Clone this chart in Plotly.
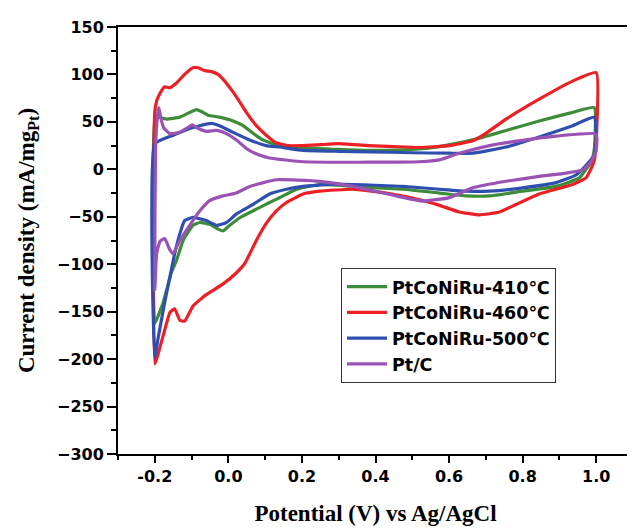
import plotly.graph_objects as go

# ---- data ----
series_names = ["PtCoNiRu-410℃", "PtCoNiRu-460℃", "PtCoNiRu-500℃", "Pt/C"]
series_colors = ["#3d8c3a", "#ec2024", "#2f4fae", "#9a52b4"]

x_410 = [-0.2, -0.2, -0.19, -0.168, -0.132, -0.105, -0.087, -0.073, -0.055, -0.024, 0.013, 0.040, 0.067,
         0.094, 0.130, 0.2, 0.3, 0.384, 0.5, 0.574, 0.664, 0.755, 0.845, 0.936, 0.995, 0.995, 0.99, 0.981,
         0.954, 0.891, 0.8, 0.71, 0.646, 0.574, 0.474, 0.338, 0.248, 0.185, 0.139, 0.112, 0.076, 0.031,
         0.004, -0.015, -0.028, -0.051, -0.078, -0.096, -0.123, -0.141, -0.155, -0.177, -0.2]
y_410 = [-162, 50, 55, 53, 55, 60, 63, 61, 57, 55, 51, 46, 38,
         31, 26, 23, 21, 20, 21, 24, 31, 41, 51, 60, 65, 22, 12, 5,
         -9, -18, -23, -28, -28, -25, -21, -18, -16, -21, -30, -35, -42, -51,
         -59, -65, -63, -58, -56, -59, -75, -96, -109, -140, -162]

x_460 = [-0.2, -0.2, -0.195, -0.186, -0.173, -0.159, -0.141, -0.119, -0.096, -0.082, -0.064, -0.046, -0.028,
         -0.010, 0.008, 0.026, 0.049, 0.076, 0.103, 0.13, 0.16, 0.2, 0.25, 0.3, 0.38, 0.45, 0.52, 0.6,
         0.664, 0.70, 0.755, 0.845, 0.936, 1.0, 1.0, 0.995, 0.985, 0.972, 0.936, 0.845, 0.782, 0.737,
         0.682, 0.628, 0.574, 0.52, 0.429, 0.338, 0.248, 0.203, 0.158, 0.130, 0.103, 0.076, 0.045, 0.022,
         -0.015, -0.06, -0.096, -0.119, -0.132, -0.146, -0.159, -0.177, -0.2]
y_460 = [-205, 60, 72, 80, 87, 86, 91, 100, 107, 107, 104, 103, 100,
         93, 84, 74, 60, 46, 36, 28, 25, 25, 26, 27, 25, 24, 23, 25,
         30, 38, 53, 74, 93, 102, 30, 10, 0, -9, -16, -26, -37, -45,
         -48, -45, -38, -32, -25, -21, -23, -26, -35, -44, -57, -75, -99, -109,
         -121, -132, -144, -160, -159, -147, -151, -175, -205]

x_500 = [-0.2, -0.2, -0.15, -0.105, -0.078, -0.046, -0.024, 0.013, 0.058, 0.103, 0.139, 0.203, 0.3,
         0.384, 0.5, 0.601, 0.664, 0.755, 0.845, 0.936, 0.995, 1.0, 0.995, 0.981, 0.945, 0.891, 0.8,
         0.71, 0.646, 0.574, 0.474, 0.293, 0.203, 0.158, 0.112, 0.067, 0.022, -0.005, -0.032, -0.06,
         -0.096, -0.119, -0.132, -0.146, -0.155, -0.173, -0.191, -0.2]
y_500 = [-198, 27, 36, 43, 46, 48.5, 46, 39, 31, 25, 23.5, 20, 19,
         18.5, 17.5, 17, 17, 23.5, 34, 46, 55, 29, 15, 8, -6, -14, -19.5,
         -23, -23, -21, -18, -15.5, -18, -21, -26, -37, -47, -56, -59, -54,
         -50.6, -54, -68, -89, -106, -140, -178, -198]

x_ptc = [-0.2, -0.198, -0.193, -0.189, -0.184, -0.176, -0.159, -0.132, -0.110, -0.098, -0.082, -0.06,
         -0.032, -0.01, 0.022, 0.049, 0.072, 0.112, 0.203, 0.384, 0.52, 0.574, 0.628, 0.71, 0.8, 0.891,
         0.999, 1.002, 0.999, 0.986, 0.963, 0.918, 0.845, 0.755, 0.664, 0.601, 0.528, 0.456, 0.338,
         0.248, 0.13, 0.058, 0.022, -0.015, -0.051, -0.078, -0.105, -0.132, -0.15, -0.159, -0.173,
         -0.186, -0.195, -0.2]
y_ptc = [-127, 20, 55, 65, 55, 44, 37.5, 39, 44, 47, 43, 40,
         41, 38.5, 31, 22, 17, 12, 8, 7.5, 8, 10, 17, 25, 30.6, 35,
         37.5, 32, 18, 8, -0.5, -4, -7.5, -12.6, -19.5, -29.8, -33.4, -28, -18,
         -12.6, -11, -18, -25, -28, -33, -44, -59, -75, -89, -85, -73,
         -76, -89, -127]

x_ticks = [-0.2, 0.0, 0.2, 0.4, 0.6, 0.8, 1.0]
y_ticks = [150, 100, 50, 0, -50, -100, -150, -200, -250, -300]

xs = [x_410, x_460, x_500, x_ptc]
ys = [y_410, y_460, y_500, y_ptc]

fig = go.Figure()
for name, color, x, y in zip(series_names, series_colors, xs, ys):
    fig.add_trace(go.Scatter(x=x, y=y, mode="lines", name=name,
                             line=dict(color=color, width=3.2, shape="spline", smoothing=0.4)))

tickfont = dict(family="DejaVu Sans", size=16, color="black", weight="bold")
titlefont = dict(family="Liberation Serif, Times New Roman", size=23, color="black", weight="bold")

fig.update_layout(
    width=635, height=529,
    margin=dict(l=110, r=10, t=12, b=83),
    paper_bgcolor="white", plot_bgcolor="white",
    showlegend=True,
    legend=dict(x=0.433, y=0.436, xanchor="left", yanchor="top",
                bgcolor="white", bordercolor="#333333", borderwidth=1,
                font=dict(family="DejaVu Sans", size=17.5, color="black", weight="bold"),
                itemwidth=40),
    xaxis=dict(range=[-0.3, 1.1], tickvals=x_ticks, ticktext=[f"{v:.1f}" for v in x_ticks],
               ticks="outside", ticklen=7, tickwidth=2, tickcolor="black",
               minor=dict(tickvals=[-0.3, -0.1, 0.1, 0.3, 0.5, 0.7, 0.9], ticks="outside",
                          ticklen=4, tickwidth=2, tickcolor="black"),
               showline=True, linecolor="black", linewidth=2, mirror=True,
               showgrid=False, zeroline=False, tickfont=tickfont,
               title=dict(text="Potential (V) vs Ag/AgCl", font=titlefont, standoff=20)),
    yaxis=dict(range=[-300, 150], tickvals=y_ticks, ticks="outside", ticklen=9, tickwidth=2,
               tickcolor="black",
               minor=dict(tickvals=[125, 75, 25, -25, -75, -125, -175, -225, -275], ticks="outside",
                          ticklen=5, tickwidth=2, tickcolor="black"),
               showline=True, linecolor="black", linewidth=2, mirror=False,
               showgrid=False, zeroline=False, tickfont=tickfont,
               title=dict(text="Current density (mA/mg<sub>Pt</sub>)", font=titlefont, standoff=16)),
)
fig.add_shape(type="line", xref="paper", yref="paper", x0=1, x1=1, y0=0, y1=1,
              line=dict(color="#bbbbbb", width=1))

fig.write_html("out.html")
